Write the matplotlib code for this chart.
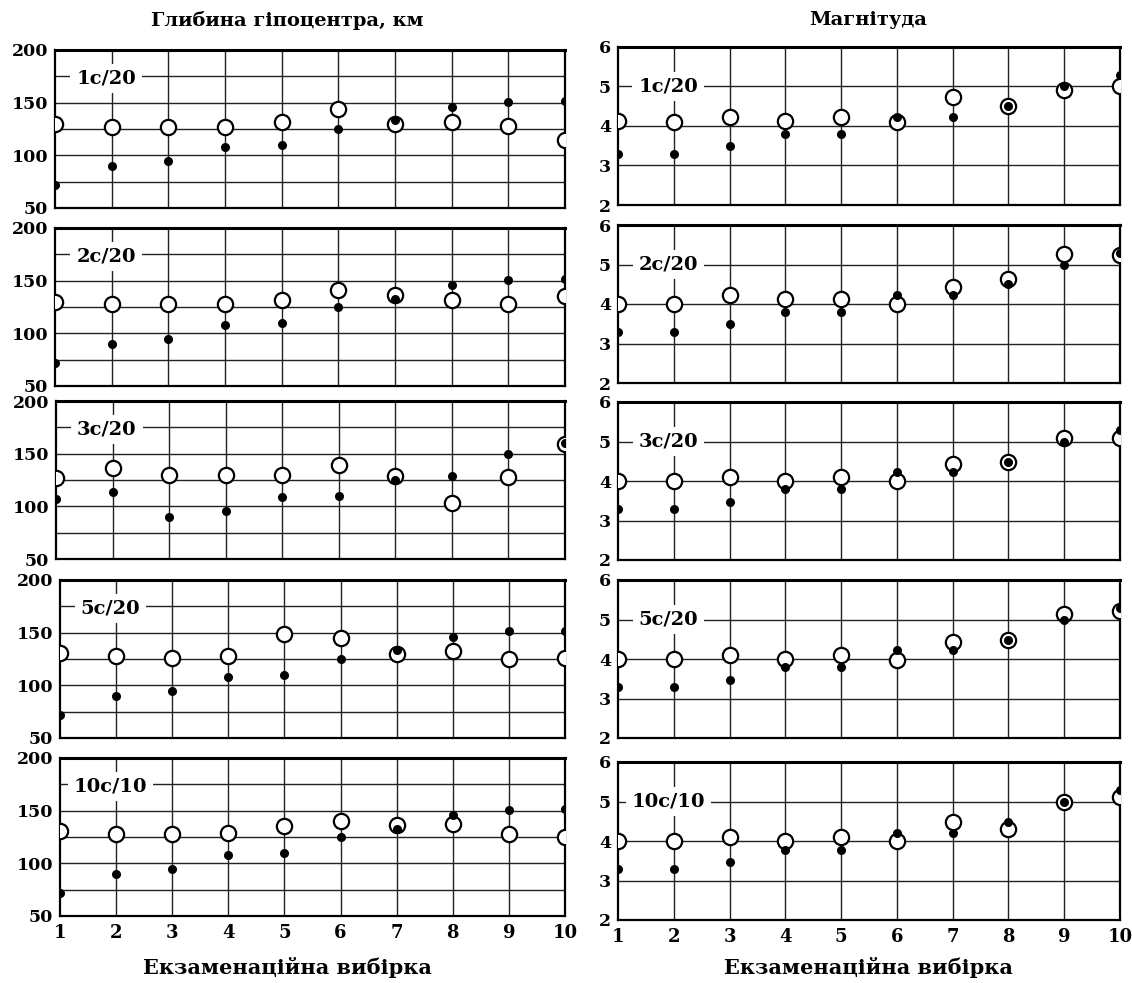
import matplotlib
matplotlib.use("Agg")
import matplotlib.pyplot as plt

plt.rcParams['font.family'] = ['DejaVu Serif']
plt.rcParams['font.weight'] = 'bold'

x = [1, 2, 3, 4, 5, 6, 7, 8, 9, 10]
panel_labels = ['1c/20', '2c/20', '3c/20', '5c/20', '10c/10']

# depth, km: filled = observed, open = predicted
depth_obs = [
    [72, 90, 95, 108, 110, 125, 134, 146, 151, 152],
    [72, 90, 95, 108, 110, 125, 133, 146, 151, 152],
    [107, 114, 90, 96, 109, 110, 125, 129, 150, 160],
    [72, 90, 95, 108, 110, 125, 134, 146, 152, 152],
    [72, 90, 95, 108, 110, 125, 133, 146, 151, 152],
]
depth_pred = [
    [130, 127, 127, 127, 132, 144, 130, 132, 128, 115],
    [130, 128, 128, 128, 132, 141, 136, 132, 128, 135],
    [127, 136, 130, 130, 130, 139, 129, 103, 128, 159],
    [131, 128, 126, 128, 149, 145, 130, 133, 125, 126],
    [131, 128, 128, 129, 135, 140, 136, 137, 128, 125],
]

# magnitude
mag_obs = [
    [3.3, 3.3, 3.5, 3.8, 3.8, 4.24, 4.23, 4.5, 5.0, 5.3],
    [3.3, 3.3, 3.5, 3.8, 3.8, 4.24, 4.23, 4.5, 5.0, 5.3],
    [3.3, 3.3, 3.48, 3.8, 3.8, 4.24, 4.22, 4.49, 5.0, 5.3],
    [3.3, 3.3, 3.48, 3.8, 3.8, 4.23, 4.23, 4.48, 4.98, 5.3],
    [3.28, 3.28, 3.47, 3.77, 3.77, 4.21, 4.21, 4.49, 5.0, 5.3],
]
mag_pred = [
    [4.13, 4.1, 4.24, 4.13, 4.24, 4.1, 4.74, 4.5, 4.92, 5.0],
    [4.0, 4.0, 4.24, 4.13, 4.13, 4.0, 4.44, 4.64, 5.26, 5.25],
    [4.0, 4.0, 4.11, 4.0, 4.11, 4.0, 4.43, 4.49, 5.1, 5.1],
    [4.0, 4.0, 4.1, 4.0, 4.1, 3.98, 4.43, 4.48, 5.13, 5.22],
    [4.0, 4.0, 4.1, 4.0, 4.1, 4.0, 4.49, 4.3, 5.0, 5.12],
]

W, H = 1132, 983
fig = plt.figure(figsize=(W / 100, H / 100), dpi=100)

left_tops = [50, 228, 401, 580, 758]
left_lefts = [55, 55, 56, 60, 60]
right_tops = [47, 225, 402, 580, 762]
ph = 158


def make_ax(left, top, width, ylim, yticks, ygrid, yvals_pred, yvals_obs, label, label_y, bottom):
    ax = fig.add_axes([left / W, 1 - (top + ph) / H, width / W, ph / H])
    ax.set_xlim(1, 10)
    ax.set_ylim(*ylim)
    for gx in range(2, 10):
        ax.axvline(gx, color='#222222', lw=1.0, zorder=1)
    for gy in ygrid:
        ax.axhline(gy, color='#222222', lw=1.0, zorder=1)
    ax.plot(x, yvals_pred, 'o', ms=11, mfc='white', mec='black', mew=1.6, zorder=3)
    ax.plot(x, yvals_obs, 'o', ms=5.5, mfc='black', mec='black', zorder=4)
    ax.text(0.1, label_y, label, transform=ax.get_yaxis_transform(), fontsize=14,
            fontweight='bold', ha='center', va='center', zorder=5,
            bbox=dict(boxstyle='square,pad=0.3', fc='white', ec='none'))
    ax.set_yticks(yticks)
    ax.tick_params(axis='y', length=0, pad=5, labelsize=12.5)
    ax.set_xticks(x)
    if bottom:
        ax.tick_params(axis='x', length=0, pad=6, labelsize=13)
    else:
        ax.tick_params(axis='x', length=0, labelbottom=False)
    for s in ax.spines.values():
        s.set_linewidth(1.6)
    ax.spines['top'].set_linewidth(2.2)
    return ax


for i in range(5):
    make_ax(left_lefts[i], left_tops[i], 565 - left_lefts[i], (50, 200), [50, 100, 150, 200],
            [75, 100, 125, 150, 175], depth_pred[i], depth_obs[i], panel_labels[i], 173, i == 4)
    make_ax(618, right_tops[i], 502, (2, 6), [2, 3, 4, 5, 6], [3, 4, 5],
            mag_pred[i], mag_obs[i], panel_labels[i], 5.0, i == 4)

fig.text(287 / W, 1 - 20 / H, 'Глибина гіпоцентра, км', ha='center', va='center',
         fontsize=14, fontweight='bold')
fig.text(868 / W, 1 - 20 / H, 'Магнітуда', ha='center', va='center',
         fontsize=14, fontweight='bold')
fig.text(287 / W, 1 - 968 / H, 'Екзаменаційна вибірка', ha='center', va='center',
         fontsize=15, fontweight='bold')
fig.text(868 / W, 1 - 968 / H, 'Екзаменаційна вибірка', ha='center', va='center',
         fontsize=15, fontweight='bold')

fig.savefig('out.png', dpi=100, facecolor='white')
